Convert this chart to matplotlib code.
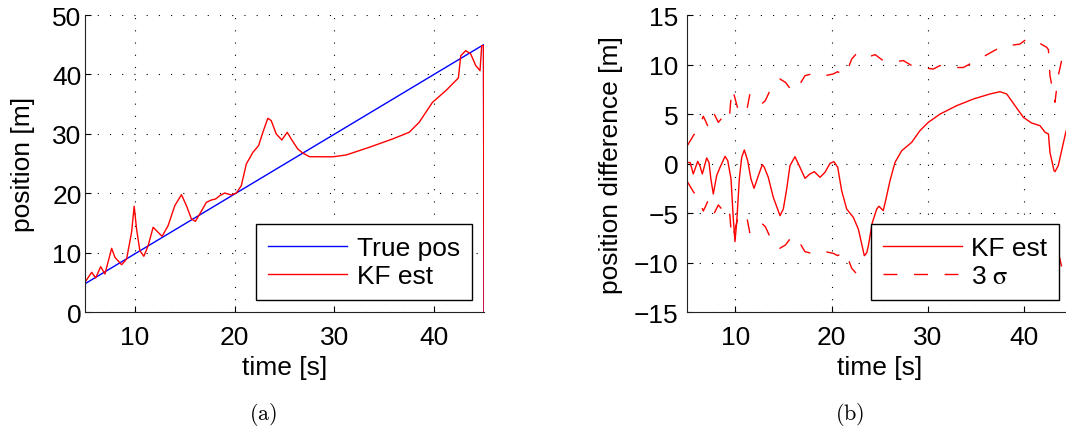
import numpy as np
import matplotlib
matplotlib.use("Agg")
import matplotlib.pyplot as plt

# (a) true position and KF estimate
true_t = [5.0, 44.95, 45.0]
true_pos = [4.8, 45.0, 0.0]

est_t = [5.0, 5.67, 6.07, 6.57, 7.0, 7.67, 8.0, 8.67, 9.17, 9.67, 9.93, 10.17,
         10.5, 10.9, 11.33, 11.83, 12.33, 12.73, 13.33, 14.0, 14.67, 15.17,
         15.67, 16.07, 16.5, 17.17, 17.67, 18.1, 18.5, 19.0, 19.67, 20.17,
         20.67, 21.17, 21.83, 22.4, 22.83, 23.33, 23.67, 24.17, 24.73, 25.27,
         25.67, 26.33, 26.83, 27.5, 29.83, 31.17, 33.5, 35.83, 37.5, 38.5,
         39.83, 41.17, 42.0, 42.43, 42.67, 43.17, 43.67, 44.17, 44.6, 44.77,
         44.95, 45.0]
est_pos = [5.05, 6.73, 5.77, 7.67, 6.44, 10.76, 9.25, 8.0, 8.96, 13.45, 17.83,
           14.0, 10.36, 9.42, 11.2, 14.3, 13.45, 12.78, 14.57, 17.93, 19.78,
           17.93, 15.69, 15.3, 16.53, 18.5, 18.89, 19.06, 19.61, 20.06, 19.73,
           20.06, 21.3, 24.94, 26.9, 28.02, 30.27, 32.63, 32.24, 29.99, 28.98,
           30.27, 29.15, 27.46, 26.79, 26.17, 26.15, 26.45, 27.75, 29.15, 30.27,
           31.95, 35.3, 37.27, 38.68, 39.4, 43.15, 44.0, 43.45, 41.5, 40.64,
           44.84, 44.84, 0.0]

# (b) position difference and 3 sigma bound
diff_t = [5.0, 5.3, 5.62, 6.08, 6.3, 6.56, 7.01, 7.25, 7.45, 7.7, 8.05, 8.4,
          8.92, 9.2, 9.54, 9.78, 9.95, 10.13, 10.4, 10.65, 10.92, 11.27, 11.61,
          11.93, 12.38, 12.79, 13.0, 13.41, 13.93, 14.63, 14.97, 15.32, 15.66,
          16.18, 16.7, 17.22, 17.74, 18.19, 18.78, 19.3, 19.82, 20.23, 20.62,
          21.03, 21.55, 22.24, 22.76, 23.11, 23.38, 23.63, 23.8, 24.2, 24.67,
          24.9, 25.35, 25.63, 26.05, 26.57, 27.26, 28.3, 29.16, 30.03, 31.24,
          32.97, 34.7, 36.43, 37.47, 38.17, 39.03, 39.9, 40.76, 41.63, 42.15,
          42.5, 42.66, 43.08, 43.19, 43.52, 44.3, 44.6, 44.77]
diff_pos = [0.13, 0.1, -1.04, 0.23, -0.2, -1.04, 0.57, 0.13, -1.55, -3.06, -1.2,
            -0.37, 0.74, 0.3, -1.55, -5.6, -7.87, -5.92, -1.55, 0.64, 1.38, 0.3,
            -1.55, -2.49, -1.2, -0.1, -0.37, -1.38, -3.4, -5.25, -4.58, -2.56,
            -0.2, 0.7, -0.37, -1.48, -1.04, -0.81, -1.38, -0.87, 0.03, 0.2, -0.37,
            -2.73, -4.58, -5.42, -6.6, -8.1, -9.29, -9.0, -8.3, -6.0, -4.58, -4.3,
            -4.74, -3.57, -1.72, 0.13, 1.3, 2.15, 3.33, 4.17, 5.0, 5.85, 6.52,
            7.03, 7.26, 7.03, 5.85, 4.67, 4.1, 3.83, 3.16, 3.0, 1.14, -0.71, -0.8,
            -0.2, 3.16, 4.0, 0.0]

sig_t = [5.0, 5.62, 6.2, 6.42, 6.66, 6.9, 7.18, 7.45, 7.8, 8.22, 8.57, 9.08,
         9.35, 9.61, 9.88, 10.3, 10.7, 11.17, 11.5, 11.85, 12.2, 12.72, 13.1,
         13.5, 13.93, 14.62, 15.2, 15.84, 16.3, 16.8, 17.22, 17.9, 18.6, 19.4,
         20.16, 20.6, 21.38, 21.7, 22.07, 22.6, 23.28, 23.9, 24.5, 25.35, 25.87,
         26.7, 27.43, 28.3, 29.16, 30.55, 31.24, 31.9, 32.8, 33.66, 34.35,
         35.04, 36.43, 37.8, 38.7, 39.55, 40.24, 40.76, 41.5, 42.32, 42.5,
         42.66, 43.18, 43.52, 43.87, 44.3, 45.0]
sig3 = [1.81, 2.82, 3.6, 4.17, 4.78, 4.3, 3.67, 4.78, 5.0, 4.17, 4.57, 4.17,
        4.4, 7.53, 6.86, 5.34, 5.0, 5.34, 7.03, 6.9, 6.52, 6.02, 6.35, 7.2,
        8.04, 8.54, 8.2, 7.36, 7.4, 8.2, 8.88, 9.05, 8.78, 8.9, 9.05, 9.28,
        8.9, 9.6, 10.56, 11.13, 10.73, 10.8, 11.0, 10.39, 10.23, 10.3, 10.4,
        9.9, 9.7, 9.55, 9.9, 9.7, 9.7, 9.7, 10.06, 10.4, 11.17, 11.9, 11.95,
        12.07, 12.58, 12.6, 12.2, 11.74, 11.5, 8.88, 6.19, 8.88, 10.4, 10.7,
        10.9]

plt.rcParams['font.family'] = ['Liberation Sans', 'DejaVu Sans']
plt.rcParams['font.size'] = 19

fig = plt.figure(figsize=(10.66, 4.31), dpi=100)
ax1 = fig.add_axes([85 / 1066, 117.7 / 431, 399 / 1066, 297.3 / 431])
ax2 = fig.add_axes([687.3 / 1066, 117.7 / 431, 385.2 / 1066, 297.3 / 431])

grid_kw = dict(color='k', linestyle=(0, (1, 10)), linewidth=0.8)

for ax in (ax1, ax2):
    ax.spines['top'].set_visible(False)
    ax.spines['right'].set_visible(False)
    for s in ('left', 'bottom'):
        ax.spines[s].set_linewidth(0.8)
        ax.spines[s].set_color('#222222')
    ax.set_axisbelow(True)
    ax.grid(True, **grid_kw)
    ax.tick_params(direction='in', length=4, width=0.8, labelsize=19)
    ax.tick_params(axis='x', pad=9)

line_kw = dict(lw=1.0, solid_joinstyle='round', dash_joinstyle='round')

# (a)
ax1.plot(true_t, true_pos, color='b', label='True pos', **line_kw)
ax1.plot(est_t, est_pos, color='r', label='KF est', **line_kw)
ax1.set_xlim(5, 45)
ax1.set_ylim(0, 50)
ax1.set_xticks([10, 20, 30, 40])
ax1.set_yticks([0, 10, 20, 30, 40, 50])
ax1.tick_params(axis='y', pad=2.5)
ax1.set_xlabel('time [s]')
ax1.set_ylabel('position [m]')
ax1.xaxis.set_label_coords(0.5, -0.143)
ax1.yaxis.set_label_coords(-0.125, 0.5)

leg_kw = dict(fancybox=False, edgecolor='k', framealpha=1, fontsize=19,
              handlelength=3.0, handletextpad=0.35, borderpad=0.45,
              labelspacing=0.15, borderaxespad=0, loc='lower right')
l1 = ax1.legend(bbox_to_anchor=(0.969, 0.041), **leg_kw)
l1.get_frame().set_linewidth(1.0)

# (b)
sig_arr = np.array(sig3)
ax2.plot(diff_t, diff_pos, color='r', label='KF est', **line_kw)
ax2.plot(sig_t, sig_arr, color='r', linestyle=(0, (10, 12)),
         label='3 $\\mathrm{\\sigma}$', **line_kw)
ax2.plot(sig_t, -sig_arr, color='r', linestyle=(0, (10, 12)), **line_kw)
ax2.set_xlim(5, 45)
ax2.set_ylim(-15, 15)
ax2.set_xticks([10, 20, 30, 40])
ax2.set_yticks([-15, -10, -5, 0, 5, 10, 15])
ax2.tick_params(axis='y', pad=6.5)
ax2.set_xlabel('time [s]')
ax2.set_ylabel('position difference [m]')
ax2.xaxis.set_label_coords(0.5, -0.143)
ax2.yaxis.set_label_coords(-0.167, 0.5)
l2 = ax2.legend(bbox_to_anchor=(0.966, 0.042), **leg_kw)
l2.get_frame().set_linewidth(1.0)
for t in l2.get_texts():
    t.set_math_fontfamily('stix')

fig.text(263.5 / 1066, 16 / 431, r'$\mathrm{(a)}$', ha='center', va='center',
         fontsize=16, math_fontfamily='cm')
fig.text(850 / 1066, 16 / 431, r'$\mathrm{(b)}$', ha='center', va='center',
         fontsize=16, math_fontfamily='cm')

fig.savefig('out.png', dpi=100)
